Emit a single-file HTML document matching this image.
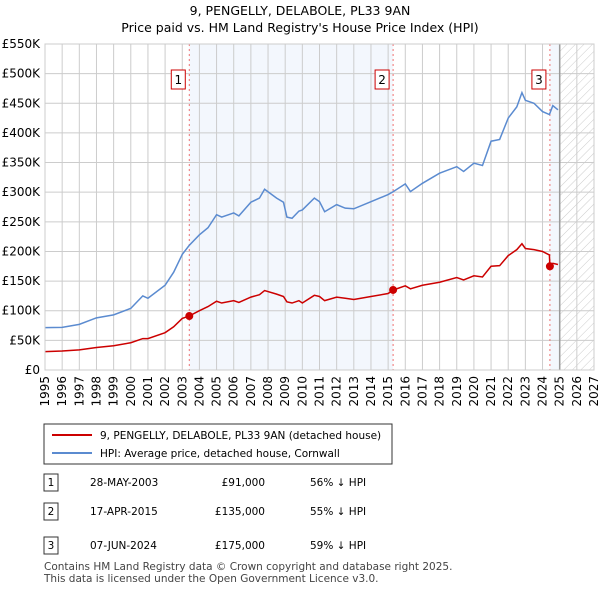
<!DOCTYPE html>
<html><head><meta charset="utf-8"><style>
body{margin:0;background:#fff;font-family:"DejaVu Sans","Liberation Sans",sans-serif;}
svg text{font-family:"DejaVu Sans","Liberation Sans",sans-serif;}
</style></head><body>
<svg width="600" height="590" xmlns="http://www.w3.org/2000/svg" id="chart">
<defs><pattern id="hatch" width="6" height="6" patternUnits="userSpaceOnUse" patternTransform="rotate(45)"><line x1="0" y1="0" x2="0" y2="6" stroke="#ccc" stroke-width="1"/></pattern></defs>
<text x="300" y="15" text-anchor="middle" font-size="12.5">9, PENGELLY, DELABOLE, PL33 9AN</text>
<text x="300" y="32" text-anchor="middle" font-size="12.5">Price paid vs. HM Land Registry's House Price Index (HPI)</text>
<g id="plot"></g>
<g>
<rect x="44" y="424" width="348" height="40" fill="#fff" stroke="#333"/>
<line x1="52" y1="435" x2="92" y2="435" stroke="#cc0000" stroke-width="2"/>
<text x="100" y="439" font-size="10.5">9, PENGELLY, DELABOLE, PL33 9AN (detached house)</text>
<line x1="52" y1="453" x2="92" y2="453" stroke="#5b8bd0" stroke-width="2"/>
<text x="100" y="457" font-size="10.5">HPI: Average price, detached house, Cornwall</text>
</g>
<g font-size="10.5">
<rect x="44" y="474" width="14" height="17" fill="#fff" stroke="#333"/><text x="51" y="486" text-anchor="middle">1</text>
<text x="90" y="486">28-MAY-2003</text><text x="265" y="486" text-anchor="end">£91,000</text><text x="310" y="486">56% ↓ HPI</text>
<rect x="44" y="503" width="14" height="17" fill="#fff" stroke="#333"/><text x="51" y="515" text-anchor="middle">2</text>
<text x="90" y="515">17-APR-2015</text><text x="265" y="515" text-anchor="end">£135,000</text><text x="310" y="515">55% ↓ HPI</text>
<rect x="44" y="537" width="14" height="17" fill="#fff" stroke="#333"/><text x="51" y="549" text-anchor="middle">3</text>
<text x="90" y="549">07-JUN-2024</text><text x="265" y="549" text-anchor="end">£175,000</text><text x="310" y="549">59% ↓ HPI</text>
</g>
<text x="44" y="570" font-size="10.5" fill="#444">Contains HM Land Registry data © Crown copyright and database right 2025.</text>
<text x="44" y="582" font-size="10.5" fill="#444">This data is licensed under the Open Government Licence v3.0.</text>
</svg>
<script>
const hpiYears=[1995,1996,1997,1998,1999,2000,2000.7,2001,2002,2002.5,2003,2003.4,2004,2004.5,2005,2005.3,2006,2006.3,2007,2007.5,2007.8,2008.5,2008.9,2009.1,2009.4,2009.8,2010,2010.7,2011,2011.3,2012,2012.5,2013,2014,2015,2015.3,2016,2016.3,2017,2018,2019,2019.4,2020,2020.5,2021,2021.5,2022,2022.5,2022.8,2023,2023.5,2024,2024.4,2024.6,2024.9];
const hpiValues=[71.5,72,77,88,93,104,125,121,143,165,195,210,228,240,262,258,265,260,283,290,305,290,283,258,256,268,270,290,284,267,279,273,272,284,296,301,314,301,315,332,343,335,349,345,386,389,425,444,468,455,450,436,431,446,439];
const redYears=[1995,1996,1997,1998,1999,2000,2000.7,2001,2002,2002.5,2003,2003.4,2004,2004.5,2005,2005.3,2006,2006.3,2007,2007.5,2007.8,2008.5,2008.9,2009.1,2009.4,2009.8,2010,2010.7,2011,2011.3,2012,2012.5,2013,2014,2015,2015.3,2016,2016.3,2017,2018,2019,2019.4,2020,2020.5,2021,2021.5,2022,2022.5,2022.8,2023,2023.5,2024,2024.4,2024.43,2024.6,2024.9];
const redValues=[31,32,34,38,41,46,53,53,63,73,87,91,100,107,116,113,117,114,123,127,134,128,124,115,113,117,113,126,124,117,123,121,119,124,129,135,142,137,143,148,156,152,159,157,175,176,193,203,213,205,203,200,194,175,180,178];
const saleYears=[2003.41,2015.29,2024.43];
const saleValues=[91,135,175];
const saleLabels=["1","2","3"];
const yTicks=[0,50,100,150,200,250,300,350,400,450,500,550];
const yTickLabels=["£0","£50K","£100K","£150K","£200K","£250K","£300K","£350K","£400K","£450K","£500K","£550K"];
const xTicks=[1995,1996,1997,1998,1999,2000,2001,2002,2003,2004,2005,2006,2007,2008,2009,2010,2011,2012,2013,2014,2015,2016,2017,2018,2019,2020,2021,2022,2023,2024,2025,2026,2027];
const X0=45,X1=594,Y0=370,Y1=44;
const xs=y=>X0+(y-1995)/(2027-1995)*(X1-X0);
const ys=v=>Y0-v/550*(Y0-Y1);
const NS="http://www.w3.org/2000/svg";
const g=document.getElementById('plot');
function mk(t,a){const e=document.createElementNS(NS,t);for(const k in a)e.setAttribute(k,a[k]);g.appendChild(e);return e;}
let e;
e=mk('rect',{x:xs(saleYears[0]),y:Y1,width:xs(saleYears[1])-xs(saleYears[0]),height:Y0-Y1,fill:'#eef3fc',opacity:0.7});


e=mk('rect',{x:xs(saleYears[2]),y:Y1,width:xs(2025)-xs(saleYears[2]),height:Y0-Y1,fill:'#eef3fc',opacity:0.7});


e=mk('rect',{x:xs(2025),y:Y1,width:xs(2027)-xs(2025),height:Y0-Y1,fill:'url(#hatch)'});


yTicks.forEach((v,i)=>{
 e=mk('line',{x1:X0,x2:X1,y1:ys(v),y2:ys(v),stroke:'#ccc'});
 
 
 e=mk('text',{x:40,y:ys(v)+4,'text-anchor':'end','font-size':12});
 e.textContent=yTickLabels[i];
 
 
});
xTicks.forEach(yr=>{
 e=mk('line',{x1:xs(yr),x2:xs(yr),y1:Y1,y2:Y0,stroke:'#ccc'});
 
 
 e=mk('text',{x:xs(yr)+4,y:Y0+6,'font-size':12,transform:`rotate(-90 ${xs(yr)+4} ${Y0+6})`,'text-anchor':'end'});
 e.textContent=yr;
 
 
});
e=mk('line',{x1:xs(2025),x2:xs(2025),y1:Y1,y2:Y0,stroke:'#999','stroke-width':1.5});


saleYears.forEach((yr,i)=>{
 e=mk('line',{x1:xs(yr),x2:xs(yr),y1:Y1,y2:Y0,stroke:'#f07070','stroke-dasharray':'2,3'});
 
 
 e=mk('rect',{x:xs(yr)-18,y:70,width:14,height:19,fill:'#fff',stroke:'#cc0000'});
 
 
 e=mk('text',{x:xs(yr)-11,y:84,'text-anchor':'middle','font-size':12});
 e.textContent=saleLabels[i];
 
 
});
e=mk('polyline',{points:hpiYears.map((y,i)=>xs(y)+','+ys(hpiValues[i])).join(' '),fill:'none',stroke:'#5b8bd0','stroke-width':1.5});


e=mk('polyline',{points:redYears.map((y,i)=>xs(y)+','+ys(redValues[i])).join(' '),fill:'none',stroke:'#cc0000','stroke-width':1.5});


saleYears.forEach((yr,i)=>{
 e=mk('circle',{cx:xs(yr),cy:ys(saleValues[i]),r:4,fill:'#cc0000'});
 
 
});
e=mk('rect',{x:X0,y:Y1,width:X1-X0,height:Y0-Y1,fill:'none',stroke:'#ccc'});


</script>
</body></html>
